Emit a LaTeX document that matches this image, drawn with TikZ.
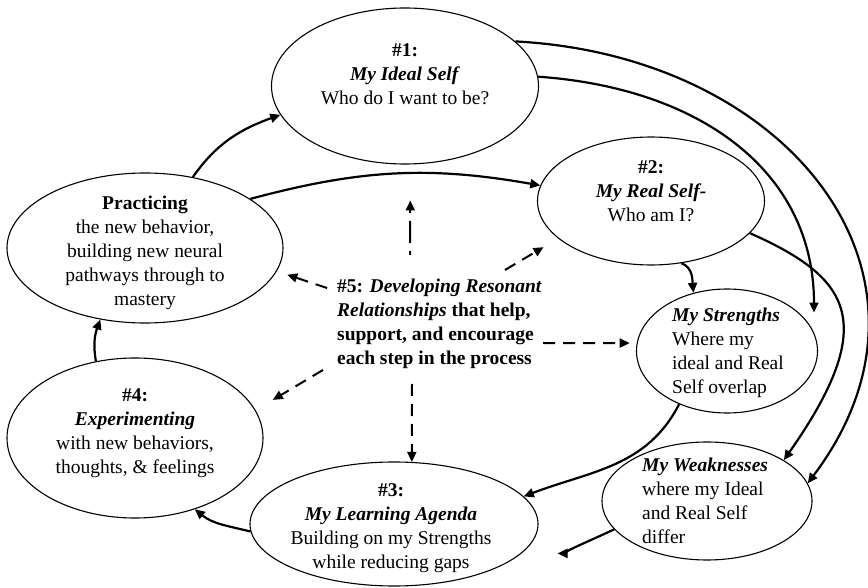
\documentclass[tikz,border=0pt]{standalone}
\usepackage{fontspec}
\setmainfont{Liberation Serif}
\usetikzlibrary{arrows.meta,calc,shapes.geometric}
\begin{document}
\begin{tikzpicture}[x=1pt,y=1pt,
  stage/.style={ellipse, draw, line width=1.1pt, inner sep=0pt},
  lbl/.style={font=\fontsize{19.5}{24}\selectfont, inner sep=0pt, align=center},
  lblleft/.style={lbl, align=left, anchor=west},
  flow/.style={line width=2.2pt, -{Triangle[length=10pt,width=9pt]}},
  support/.style={line width=2pt, dash pattern=on 12pt off 8pt, -{Triangle[length=10pt,width=9pt]}}
]
\useasboundingbox (0,0) rectangle (868,587);

% stages of the cycle
\node[stage, minimum width=267, minimum height=156] (n1) at (405,501) {};
\node[stage, minimum width=227, minimum height=128] (n2) at (651,386) {};
\node[stage, minimum width=276, minimum height=150] (prac) at (145,339) {};
\node[stage, minimum width=181, minimum height=124] (str) at (727,236) {};
\node[stage, minimum width=256, minimum height=160] (exp) at (135,149) {};
\node[stage, minimum width=210, minimum height=118] (weak) at (707,86) {};
\node[stage, minimum width=288, minimum height=124] (agenda) at (394,63) {};

% texts inside the stages
\node[lbl] (t1) at (405,513) {\textbf{\#1:}\\ \textbf{\textit{My Ideal Self}}\\ Who do I want to be?};
\node[lbl] (t2) at (651,396) {\textbf{\#2:}\\ \textbf{\textit{My Real Self-}}\\ Who am I?};
\node[lbl] (tprac) at (145,334) {\textbf{Practicing}\\ the new behavior,\\ building new neural\\ pathways through to\\ mastery};
\node[lblleft] (tstr) at (672,234) {\textbf{\textit{My Strengths}}\\ Where my\\ ideal and Real\\ Self overlap};
\node[lbl] (texp) at (135,154) {\textbf{\#4:}\\ \textbf{\textit{Experimenting}}\\ with new behaviors,\\ thoughts, \& feelings};
\node[lblleft] (tweak) at (642,86) {\textbf{\textit{My Weaknesses}}\\ where my Ideal\\ and Real Self\\ differ};
\node[lbl] (tagenda) at (391,59) {\textbf{\#3:}\\ \textbf{\textit{My Learning Agenda}}\\ Building on my Strengths\\ while reducing gaps};

% central text
\node[lblleft, font=\fontsize{19.5}{24}\selectfont\bfseries] (t5) at (337,263)
  {\#5: \textit{Developing Resonant}\\ \textit{Relationships} that help,\\ support, and encourage\\ each step in the process};

% solid flow arrows
\draw[flow] (prac.56) to[out=55,in=200] (n1.193);
\draw[flow] (prac.25) to[out=15,in=170] (n2.172);
\draw[flow] (n1.22) to[out=-3,in=53,out looseness=1.33,in looseness=1.25] (weak.10);
\draw[flow, shorten >=20pt] (n1.4) to[out=-4,in=90,looseness=1.1] (str.12);
\draw[flow] (n2.-64) to[out=-20,in=95] (str.120);
\draw[flow] (n2.-18) to[out=-24,in=55,out looseness=1.22,in looseness=1.89] (weak.28);
\draw[flow] (str.228) to[out=-117,in=21] (agenda.12);
\draw[flow, shorten >=36pt] (weak.197) to[out=205,in=0] (agenda.-13);
\draw[flow] (agenda.183) to[out=166,in=-39] (exp.-50);
\draw[flow] (exp.117) to[out=100,in=-110] (prac.-122);

% dashed support arrows from the central text
\draw[support, dash pattern=on 22pt off 8pt, dash phase=18pt, shorten >=36pt] ($(t5.west)+(73,69)$) -- (n1.-86);
\draw[support, shorten >=11pt] ($(t5.west)+(-10,36)$) -- (prac.-10);
\draw[support, shorten >=17pt] ($(t5.west)+(168,54)$) -- (n2.202);
\draw[support, shorten >=7pt] ($(t5.west)+(206,-19)$) -- (str.175);
\draw[support, shorten >=20pt] ($(t5.west)+(-14,-46)$) -- (exp.13);
\draw[support] ($(t5.west)+(75,-60)$) -- (agenda.74);
\end{tikzpicture}
\end{document}
